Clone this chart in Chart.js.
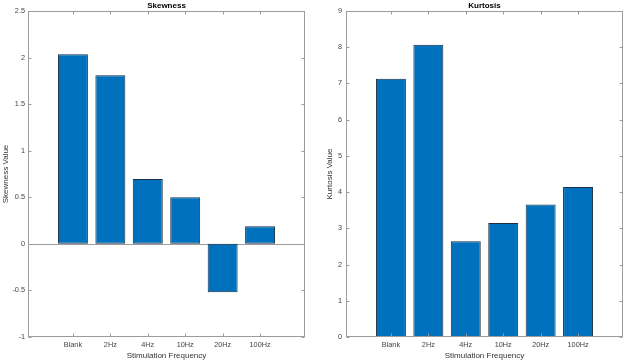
<!DOCTYPE html>
<html>
<head>
<meta charset="utf-8">
<script src="https://cdn.jsdelivr.net/npm/chart.js@4/dist/chart.umd.min.js"></script>
<style>
html,body{margin:0;padding:0;background:#fff;width:625px;height:361px;overflow:hidden;}
.box{position:absolute;top:0;height:361px;}
</style>
</head>
<body>
<div class="box" style="left:0;width:312px;"><canvas id="c1"></canvas></div>
<div class="box" style="left:312px;width:313px;"><canvas id="c2"></canvas></div>
<script>
const categories = ['Blank', '2Hz', '4Hz', '10Hz', '20Hz', '100Hz'];
const skewness = [2.035, 1.81, 0.695, 0.50, -0.52, 0.19];
const kurtosis = [7.13, 8.07, 2.64, 3.15, 3.66, 4.14];

const FONT = "'Liberation Sans', Arial, Helvetica, sans-serif";
const AXIS_COLOR = '#9c9c9c';
const TICK_COLOR = '#444444';

const matlabAxes = {
  id: 'matlabAxes',
  beforeDatasetsDraw(chart, args, opts) {
    const {ctx, chartArea: a, scales} = chart;
    if (opts.zeroLine) {
      const y = Math.round(scales.y.getPixelForValue(0)) + 0.5;
      ctx.save();
      ctx.strokeStyle = AXIS_COLOR;
      ctx.lineWidth = 1;
      ctx.beginPath();
      ctx.moveTo(a.left, y); ctx.lineTo(a.right, y);
      ctx.stroke();
      ctx.restore();
    }
  },
  afterDraw(chart, args, opts) {
    const {ctx, chartArea: a, scales} = chart;
    ctx.save();
    ctx.strokeStyle = AXIS_COLOR;
    ctx.lineWidth = 1;
    const L = Math.round(a.left) + 0.5, R = Math.round(a.right) - 0.5;
    const T = Math.round(a.top) + 0.5, B = Math.round(a.bottom) - 0.5;
    ctx.strokeRect(L, T, R - L, B - T);
    const tl = 3;
    ctx.beginPath();
    scales.x.ticks.forEach(t => {
      const x = Math.round(scales.x.getPixelForValue(t.value)) + 0.5;
      ctx.moveTo(x, B); ctx.lineTo(x, B - tl);
      ctx.moveTo(x, T); ctx.lineTo(x, T + tl);
    });
    scales.y.ticks.forEach(t => {
      const y = Math.round(scales.y.getPixelForValue(t.value)) + 0.5;
      ctx.moveTo(L, y); ctx.lineTo(L + tl, y);
      ctx.moveTo(R, y); ctx.lineTo(R - tl, y);
    });
    ctx.stroke();
    ctx.fillStyle = '#000';
    ctx.font = 'bold 8px ' + FONT;
    ctx.textAlign = 'center';
    ctx.textBaseline = 'middle';
    ctx.fillText(opts.title, (a.left + a.right) / 2, 5.5);
    ctx.restore();
  }
};

function makeChart(id, values, cfg) {
  const points = values.map((v, i) => ({x: i + 1, y: v}));
  return new Chart(document.getElementById(id), {
    type: 'bar',
    data: {
      datasets: [{
        data: points,
        backgroundColor: '#0072BD',
        borderColor: '#1a2d42',
        borderWidth: 1,
        borderSkipped: false,
        categoryPercentage: 1,
        barPercentage: 0.8
      }]
    },
    options: {
      responsive: true,
      maintainAspectRatio: false,
      animation: false,
      layout: {padding: {top: 11, right: cfg.padRight, left: 0, bottom: 0}},
      plugins: {
        legend: {display: false},
        tooltip: {enabled: false},
        title: {display: false},
        matlabAxes: {title: cfg.title, zeroLine: cfg.zeroLine}
      },
      scales: {
        x: {
          type: 'linear',
          min: -0.2,
          max: 7.2,
          offset: false,
          grid: {display: false, drawTicks: false, offset: false},
          border: {display: false},
          afterBuildTicks: s => { s.ticks = categories.map((c, i) => ({value: i + 1})); },
          afterFit: s => { s.height = 24; },
          ticks: {
            padding: 4,
            autoSkip: false,
            maxRotation: 0,
            color: TICK_COLOR,
            font: {family: FONT, size: 7.3},
            callback: v => categories[Math.round(v) - 1] || ''
          },
          title: {
            display: true,
            text: 'Stimulation Frequency',
            color: '#333333',
            font: {family: FONT, size: 8},
            padding: {top: 0, bottom: 0.8}
          }
        },
        y: {
          type: 'linear',
          min: cfg.min,
          max: cfg.max,
          grid: {display: false, drawTicks: false},
          border: {display: false},
          afterFit: s => { s.width = cfg.yWidth; },
          ticks: {
            stepSize: cfg.step,
            padding: cfg.tickPad,
            color: TICK_COLOR,
            font: {family: FONT, size: 7.3},
            callback: v => String(Math.round(v * 100) / 100)
          },
          title: {
            display: true,
            text: cfg.yTitle,
            color: '#333333',
            font: {family: FONT, size: 8},
            padding: {top: cfg.yTitlePad, bottom: 0}
          }
        }
      }
    },
    plugins: [matlabAxes]
  });
}

makeChart('c1', skewness, {
  title: 'Skewness', yTitle: 'Skewness Value', min: -1, max: 2.5, step: 0.5,
  yWidth: 28, padRight: 7, tickPad: 3, yTitlePad: 0.8, zeroLine: true
});
makeChart('c2', kurtosis, {
  title: 'Kurtosis', yTitle: 'Kurtosis Value', min: 0, max: 9, step: 1,
  yWidth: 34, padRight: 2, tickPad: 4, yTitlePad: 13, zeroLine: false
});
</script>
</body>
</html>
